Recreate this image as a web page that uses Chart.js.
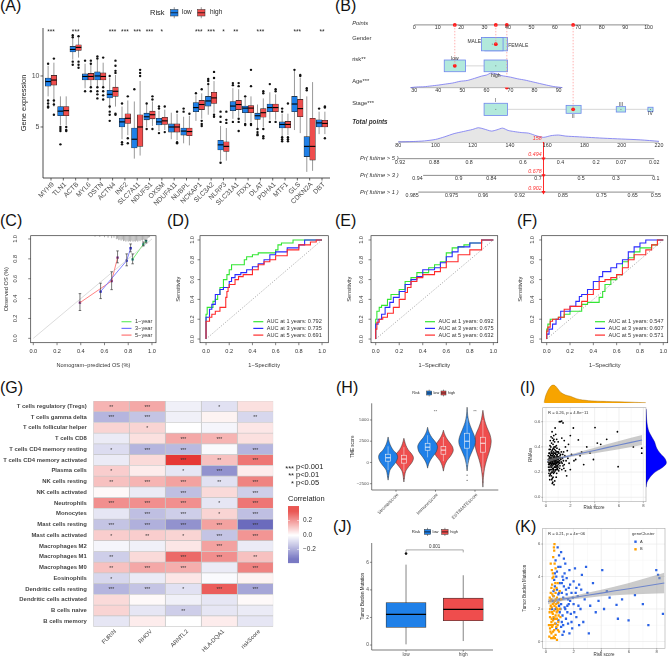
<!DOCTYPE html>
<html>
<head>
<meta charset="utf-8">
<title>Figure</title>
<script src="https://cdn.jsdelivr.net/npm/chart.js@4.4.1/dist/chart.umd.min.js"></script>
<style>
  html, body { margin: 0; padding: 0; background: #fff; }
  #wrap { position: relative; width: 669px; height: 657px; overflow: hidden; background: #fff; }
  #wrap canvas { position: absolute; left: 0; top: 0; }
  .tag { position: absolute; font: 16px "Liberation Sans", Arial, sans-serif; line-height: 16px; color: #111; white-space: nowrap; }
</style>
</head>
<body>
<div id="wrap"></div>
<script>
// ---------------- data: (A) gene expression boxplots ----------------
const genesA = ['MYH9','TLN1','ACTB','MYL6','DSTN','ACTN4','INF2','SLC7A11','NDUFS1','OXSM','NDUFA11','NUBPL',
  'NCKAP1','SLC3A2','NLRP3','SLC31A1','FDX1','DLAT','PDHA1','MTF1','GLS','CDKN2A','DBT'];
const sigA = ['***','','***','','','***','***','***','***','*','','','***','***','*','**','','***','','','***','','**'];
// [lower whisker, q1, median, q3, upper whisker]
const lowBoxA = [[8.0,9.0,9.45,9.8,11.0],[5.2,6.1,6.55,7.0,8.0],[11.6,12.35,12.6,12.9,13.7],[8.8,9.6,9.95,10.2,11.2],
  [9.0,9.6,10.0,10.4,11.6],[6.8,7.85,8.2,8.6,9.8],[3.8,5.0,5.5,5.85,7.0],[1.9,2.95,3.8,4.9,7.5],[5.0,5.7,6.0,6.35,7.2],
  [4.6,5.2,5.5,5.85,6.6],[3.8,4.5,5.0,5.3,6.4],[3.4,4.2,4.6,4.9,6.0],[5.6,6.5,6.9,7.4,8.1],[6.2,7.05,7.55,8.0,9.1],
  [1.7,2.75,3.25,3.7,5.1],[5.8,6.6,7.05,7.5,8.8],[5.5,6.4,6.85,7.05,7.9],[4.9,5.75,6.1,6.35,7.2],[5.7,6.5,6.9,7.25,8.4],
  [4.1,4.9,5.25,5.5,6.3],[4.7,6.5,7.25,8.0,10.5],[0.6,2.1,3.1,4.05,8.0],[4.3,5.0,5.4,5.7,6.5]];
const highBoxA = [[7.0,9.1,9.6,10.05,11.3],[5.2,6.1,6.6,7.0,8.0],[11.8,12.5,12.8,13.05,13.9],[8.8,9.6,9.95,10.25,11.1],
  [9.0,9.6,9.95,10.3,11.3],[7.0,8.0,8.5,8.9,10.1],[4.2,5.35,5.85,6.3,7.6],[2.2,3.1,5.0,6.2,9.5],[5.1,5.8,6.2,6.55,7.5],
  [4.7,5.25,5.6,5.95,6.7],[3.7,4.5,5.0,5.3,6.3],[3.2,4.15,4.55,4.9,6.1],[5.8,6.7,7.2,7.6,8.3],[6.4,7.3,7.85,8.4,9.5],
  [1.7,2.6,3.1,3.55,4.9],[6.0,6.7,7.2,7.6,8.7],[5.5,6.4,6.85,7.1,8.0],[5.0,5.95,6.4,6.8,7.8],[5.7,6.5,6.9,7.25,8.2],
  [4.2,4.9,5.25,5.55,6.3],[4.4,6.0,6.8,7.7,9.8],[0.7,1.75,3.1,5.85,9.4],[4.3,5.0,5.35,5.65,6.5]];
const lowOutA = [[11.2,7.6,7.3,7.0,6.9],[5.0,4.8,4.6,3.3],[14.0,13.8,11.4,11.1],[11.5,8.5],[11.9,11.7,8.9,8.5,8.2,7.8],
  [10.0,7.0,6.5,6.2,5.6],[7.3,3.5,3.3],[8.7],[7.3,4.8],[7.0,6.8,4.4],[],[6.8,6.5],[8.3],[9.7,9.5,9.2],[6.5,6.0,5.5,1.5],
  [9.3,9.1,5.5],[8.0,5.3,5.2],[4.8,4.5,4.3,4.2],[9.2,5.5],[6.8,6.5,4.0,3.8,3.6],[10.6],[8.8,8.6],[6.8]];
const highOutA = [[11.7,7.6,7.2,6.2],[5.0,4.7,4.6],[13.9,11.4,11.1,10.8],[11.5,11.2,8.9,8.5],[11.8,8.9,8.5,8.1,7.7],
  [11.5,11.0,10.5,10.3,6.3,6.2],[8.0,3.9,3.4],[10.6,10.3,10.0],[8.0,7.7,4.8],[7.0,4.5],[6.5,3.5,3.4],[6.3],
  [8.7,5.6,5.3,5.1],[10.4,9.8,6.2,6.0],[6.5,5.7,5.4],[9.3,9.0,5.8,5.5,4.6],[10.6,9.0,5.3,5.2],[8.5,8.3,4.8,4.1,3.9],
  [8.7,8.5,5.5],[7.3,4.0,3.8,3.6],[10.1,10.0],[],[7.0,6.9,3.9]];
const yTicksA = [5, 10];

// ---------------- data: (B) nomogram ----------------
const pointsTicks = [0,10,20,30,40,50,60,70,80,90,100];
const ageTicks = [30,40,50,60,70,80,90];
const totalTicks = [80,100,120,140,160,180,200,220];
const ageDensity = [[28.5,0],[31,0.03],[34,0.04],[37,0.08],[40,0.12],[43,0.17],[46,0.22],[49,0.3],[52,0.34],[55,0.44],
  [58,0.55],[60,0.6],[62,0.7],[64,0.66],[66,0.58],[68,0.54],[70,0.5],[73,0.42],[76,0.36],[79,0.28],[82,0.2],[85,0.12],[88,0.05],[91.5,0]];
const totalDensity = [[80,0],[88,0.02],[94,0.05],[100,0.12],[105,0.25],[110,0.4],[115,0.5],[120,0.6],[123,0.68],[126,0.62],
  [130,0.52],[133,0.58],[136,0.66],[139,0.55],[142,0.5],[146,0.45],[150,0.42],[154,0.3],[158,0.22],[162,0.3],[166,0.33],
  [170,0.28],[176,0.25],[182,0.22],[190,0.18],[200,0.14],[210,0.1],[220,0.03]];
// Pr(futime > t) axes: [label, position on points scale]
const pr5Ticks = [['0.92',-6.1],['0.88',8.5],['0.8',23.4],['0.6',46.4],['0.4',62.4],['0.2',77.6],['0.07',88.2],['0.02',102.4]];
const pr3Ticks = [['0.94',1.4],['0.9',19],['0.84',32.9],['0.7',52.8],['0.5',71.2],['0.3',86.1],['0.1',103.1]];
const pr1Ticks = [['0.985',-0.9],['0.975',15.9],['0.96',29.4],['0.92',45],['0.85',63.4],['0.75',79.9],['0.65',93.2],['0.55',103.1]];
// boxes: [label, from, to, row, half height]
const genderBoxes = [['FEMALE',30.1,39.8,0.92,0.32],['MALE',28.7,37.9,0.92,0.32]];
const riskBoxes = [['low',12.8,21.9,1.96,0.28],['high',29.8,39.8,1.96,0.28]];
const stageBoxes = [['I',29.8,39.8,4.04,0.29],['II',64.8,71.2,4.04,0.19],['III',86.2,90.2,4.04,0.13],['IV',99.7,101.9,4.04,0.1]];
// selected patient: [points, row]
const selPoints = [[34.8,0.92],[17.3,1.96],[39.5,3.0],[67.8,4.04]];
const selTotal = 158;
const selProb = ['0.494','0.678','0.902'];

// ---------------- data: (C) calibration ----------------
const cal1 = [[0.837,0.795],[0.927,0.946],[0.95,0.978]];
const cal3 = [[0.567,0.47],[0.787,0.782],[0.82,0.906]];
const cal5 = [[0.393,0.359],[0.66,0.577],[0.71,0.812]];
const calErr1 = [[0.75,0.85],[0.93,0.97],[0.96,0.99]];
const calErr3 = [[0.40,0.555],[0.73,0.85],[0.87,0.95]];
const calErr5 = [[0.28,0.45],[0.49,0.67],[0.76,0.88]];
const rugC = [[0.52,0.01],[0.56,0.012],[0.6,0.015],[0.63,0.02],[0.66,0.025],[0.68,0.02],[0.7,0.035],[0.71,0.03],[0.72,0.045],
  [0.73,0.04],[0.74,0.05],[0.75,0.04],[0.76,0.055],[0.77,0.05],[0.78,0.06],[0.79,0.05],[0.8,0.06],[0.81,0.055],[0.82,0.06],
  [0.83,0.05],[0.84,0.06],[0.85,0.055],[0.86,0.06],[0.87,0.05],[0.88,0.06],[0.89,0.05],[0.9,0.055],[0.91,0.045],[0.92,0.05],
  [0.93,0.04],[0.94,0.045],[0.95,0.035],[0.96,0.03],[0.97,0.02],[0.98,0.015]];
const unitTicks = [0, 0.2, 0.4, 0.6, 0.8, 1.0];

// ---------------- data: (D) (E) (F) ROC ----------------
const rocD1 = [[0,0],[0,0.15],[0.01,0.25],[0.03,0.32],[0.06,0.32],[0.08,0.38],[0.1,0.4],[0.12,0.45],[0.15,0.52],[0.18,0.6],[0.2,0.65],
  [0.22,0.7],[0.25,0.75],[0.33,0.75],[0.35,0.8],[0.4,0.83],[0.45,0.85],[0.55,0.87],[0.6,0.87],[0.62,0.9],[0.65,0.95],[0.75,0.97],[0.8,1],[1,1]];
const rocD3 = [[0,0],[0,0.12],[0.03,0.22],[0.05,0.3],[0.08,0.35],[0.12,0.45],[0.15,0.5],[0.2,0.52],[0.22,0.58],[0.25,0.62],[0.3,0.65],
  [0.35,0.67],[0.4,0.7],[0.45,0.73],[0.5,0.76],[0.55,0.8],[0.6,0.85],[0.7,0.88],[0.8,0.92],[0.85,0.95],[0.9,1],[1,1]];
const rocD5 = [[0,0],[0,0.1],[0.03,0.18],[0.05,0.22],[0.08,0.25],[0.12,0.28],[0.17,0.32],[0.18,0.42],[0.19,0.48],[0.2,0.52],[0.25,0.55],
  [0.28,0.6],[0.32,0.63],[0.4,0.65],[0.45,0.7],[0.5,0.75],[0.55,0.78],[0.6,0.8],[0.7,0.84],[0.8,0.9],[0.9,0.95],[0.95,0.98],[1,1]];
const rocE1 = [[0,0],[0,0.1],[0.01,0.2],[0.03,0.28],[0.05,0.32],[0.1,0.34],[0.13,0.4],[0.2,0.45],[0.25,0.5],[0.3,0.58],[0.35,0.62],
  [0.45,0.67],[0.5,0.72],[0.55,0.75],[0.6,0.78],[0.65,0.87],[0.7,0.92],[0.75,0.93],[0.8,0.95],[0.9,0.97],[1,1]];
const rocE3 = [[0,0],[0.02,0.15],[0.05,0.2],[0.08,0.25],[0.12,0.32],[0.15,0.37],[0.2,0.42],[0.25,0.48],[0.3,0.55],[0.35,0.6],[0.4,0.63],
  [0.5,0.7],[0.55,0.72],[0.6,0.77],[0.65,0.83],[0.7,0.88],[0.8,0.93],[0.9,0.97],[0.95,1],[1,1]];
const rocE5 = [[0,0],[0.01,0.1],[0.03,0.17],[0.06,0.2],[0.1,0.22],[0.15,0.26],[0.2,0.32],[0.25,0.4],[0.27,0.47],[0.3,0.52],[0.35,0.58],
  [0.4,0.62],[0.5,0.65],[0.55,0.68],[0.6,0.72],[0.7,0.78],[0.8,0.85],[0.9,0.9],[1,1]];
const rocF1 = [[0,0],[0.01,0.1],[0.03,0.15],[0.05,0.2],[0.1,0.2],[0.15,0.22],[0.2,0.25],[0.3,0.28],[0.35,0.35],[0.45,0.37],[0.48,0.42],
  [0.5,0.48],[0.55,0.55],[0.6,0.6],[0.65,0.65],[0.7,0.78],[0.75,0.82],[0.8,0.88],[0.9,0.92],[0.95,0.95],[1,1]];
const rocF3 = [[0,0],[0.02,0.05],[0.05,0.1],[0.08,0.15],[0.12,0.2],[0.2,0.28],[0.25,0.33],[0.28,0.38],[0.3,0.43],[0.35,0.45],[0.4,0.5],
  [0.45,0.58],[0.48,0.63],[0.55,0.68],[0.6,0.72],[0.65,0.76],[0.7,0.8],[0.75,0.88],[0.8,0.93],[0.85,0.97],[0.9,1],[1,1]];
const rocF5 = [[0,0],[0.01,0.08],[0.03,0.12],[0.05,0.18],[0.1,0.2],[0.15,0.22],[0.2,0.3],[0.3,0.33],[0.35,0.38],[0.4,0.45],[0.45,0.5],
  [0.5,0.58],[0.55,0.6],[0.6,0.62],[0.65,0.65],[0.7,0.72],[0.75,0.8],[0.85,0.85],[0.9,0.9],[0.95,0.95],[1,1]];
const aucD = ['0.792','0.735','0.691'];
const aucE = ['0.692','0.675','0.632'];
const aucF = ['0.547','0.607','0.571'];

// ---------------- data: (G) immune correlation heatmap ----------------
const immuneCells = ['T cells regulatory (Tregs)','T cells gamma delta','T cells follicular helper','T cells CD8',
  'T cells CD4 memory resting','T cells CD4 memory activated','Plasma cells','NK cells resting','NK cells activated',
  'Neutrophils','Monocytes','Mast cells resting','Mast cells activated','Macrophages M2','Macrophages M1','Macrophages M0',
  'Eosinophils','Dendritic cells resting','Dendritic cells activated','B cells naive','B cells memory'];
const corGenes = ['FURIN','RHOV','ARNTL2','HLA-DQA1','riskScore'];
const corValues = [[0.12,0.14,-0.03,-0.06,0.05],[-0.15,-0.12,-0.03,0.02,-0.08],[0.07,0.07,0.0,-0.02,0.04],[-0.04,0.05,0.14,0.12,0.05],
  [-0.07,-0.15,-0.14,-0.01,-0.15],[-0.04,0.06,0.32,0.1,0.22],[0.08,0.03,-0.05,-0.22,0.03],[0.1,0.12,0.15,-0.06,0.2],
  [0.01,-0.04,-0.13,0.06,-0.1],[0.18,0.18,0.18,-0.05,0.22],[-0.05,-0.13,-0.1,0.07,-0.13],[-0.12,-0.16,-0.22,0.15,-0.3],
  [0.08,0.08,0.07,-0.12,0.17],[-0.02,-0.03,0.04,0.15,-0.04],[-0.1,0.06,0.24,0.18,0.1],[0.1,0.14,0.13,-0.04,0.2],
  [-0.08,-0.04,0.04,-0.01,0.02],[-0.15,-0.12,-0.06,0.26,-0.18],[0.06,0.01,-0.03,-0.05,0.01],[0.07,-0.05,-0.1,-0.05,-0.04],
  [-0.05,0.03,0.0,0.03,-0.05]];
const corStars = [['**','***','','*',''],['***','***','','','**'],['','*','','',''],['','','***','***',''],['*','***','***','','***'],
  ['','','***','**','***'],['*','','*','***',''],['**','***','***','**','***'],['','','***','','***'],['***','***','***','*','***'],
  ['','***','***','*','***'],['***','***','***','***','***'],['*','**','*','***','***'],['','','','***',''],['**','','***','***','**'],
  ['**','***','***','','***'],['*','','','',''],['***','***','*','***','***'],['','','','',''],['','','**','',''],['','','','','']];
const corLegendTicks = [0.2, 0.0, -0.2];

// ---------------- data: (H) TME violins ----------------
const tmeGroups = ['StromalScore','ImmuneScore','ESTIMATEScore'];
// [score, relative half width]
const violinLow = [
  [[-2080,0],[-1500,0.08],[-900,0.2],[-500,0.45],[0,0.8],[400,0.97],[740,1],[1100,0.85],[1440,0.55],[1900,0.3],[2400,0.12],[3000,0]],
  [[-670,0],[-200,0.1],[300,0.3],[800,0.6],[1300,0.9],[1900,1],[2400,0.8],[2900,0.45],[3400,0.2],[3800,0.07],[4140,0]],
  [[-1000,0],[-200,0.1],[600,0.3],[1400,0.65],[2100,0.95],[2600,1],[3200,0.85],[3900,0.55],[4700,0.25],[5500,0.08],[6500,0]]];
const violinHigh = [
  [[-2300,0],[-1600,0.08],[-1000,0.2],[-500,0.5],[0,0.85],[400,1],[700,0.98],[1100,0.75],[1500,0.45],[2000,0.22],[2500,0.08],[2850,0]],
  [[-1020,0],[-400,0.12],[200,0.35],[700,0.7],[1200,0.95],[1500,1],[1900,0.9],[2400,0.6],[2900,0.3],[3400,0.1],[3800,0]],
  [[-2900,0],[-1800,0.06],[-700,0.2],[300,0.45],[1200,0.75],[2000,0.95],[2600,1],[3300,0.85],[4100,0.5],[5000,0.2],[6140,0]]];
const violinWidth = [0.24, 0.25, 0.21];
const tmeBoxLow = [[-900,150,550,970,1900],[600,1440,1800,2260,3200],[-300,1680,2500,3440,5200]];
const tmeBoxHigh = [[-1100,-80,400,850,1800],[150,970,1450,1900,3000],[-1200,1210,2260,2970,5000]];
const tmeOutLow = [[-1700],[-400],[-1500,-2100]];
const tmeOutHigh = [[-1900],[-600],[-2300]];
const tmeSig = ['', '**', '**'];
const tmeTicks = [-2500, 0, 2500, 5000];

// ---------------- data: (I) RNAss vs risk score ----------------
const rnassPoints = [[0.2,0.3],[0.25,0.22],[0.3,0.35],[0.3,0.27],[0.35,0.18],[0.35,0.31],[0.4,0.25],[0.4,0.4],[0.42,0.29],[0.45,0.2],
  [0.45,0.33],[0.5,0.27],[0.5,0.37],[0.52,0.15],[0.55,0.23],[0.55,0.3],[0.58,0.42],[0.6,0.26],[0.6,0.34],[0.62,0.19],[0.65,0.29],
  [0.65,0.46],[0.68,0.24],[0.7,0.32],[0.7,0.38],[0.72,0.13],[0.75,0.27],[0.75,0.21],[0.78,0.35],[0.8,0.3],[0.8,0.5],[0.82,0.25],
  [0.85,0.41],[0.88,0.19],[0.9,0.33],[0.9,0.28],[0.92,0.23],[0.95,0.36],[0.98,0.3],[1.0,0.26],[1.0,0.44],[1.05,0.32],[1.05,0.21],
  [1.1,0.29],[1.1,0.38],[1.15,0.25],[1.2,0.34],[1.2,0.6],[1.25,0.28],[1.3,0.22],[1.3,0.47],[1.35,0.31],[1.4,0.59],[1.45,0.36],
  [1.5,0.26],[1.55,0.33],[1.6,0.4],[1.65,0.29],[1.7,0.17],[1.75,0.37],[1.8,0.31],[1.9,0.27],[2.0,0.22],[2.0,0.49],[2.1,0.34],
  [2.25,0.55],[2.3,0.29],[2.44,0.3],[2.66,0.455],[2.8,0.33],[2.93,0.36],[3.1,0.26],[3.35,0.4],[3.62,0.35],[3.9,0.3],[4.03,0.553],
  [4.22,0.43],[4.5,0.42],[4.99,0.46],[5.87,0.52],[5.93,0.243],[7.18,0.4],[7.87,0.39],[7.87,0.35],[1.1,0.6],[1.29,0.605],
  [0.22,0.26],[0.28,0.32],[0.32,0.24],[0.38,0.28],[0.43,0.36],[0.47,0.26],[0.48,0.31],[0.53,0.28],[0.57,0.35],[0.63,0.27],
  [0.67,0.33],[0.73,0.29],[0.77,0.24],[0.83,0.32],[0.87,0.27],[0.93,0.3],[0.97,0.22],[0.33,0.41],[0.44,0.17],[0.56,0.12],
  [0.66,0.1],[0.53,0.47],[0.71,0.44],[0.27,0.38],[0.37,0.34],[0.61,0.39],[0.79,0.37],[0.86,0.22],[1.02,0.36],[1.12,0.23],
  [0.24,0.19],[0.41,0.22],[0.59,0.21],[0.69,0.29],[0.94,0.25],[1.08,0.27],[1.18,0.31],[1.4,0.25],[1.6,0.21],[0.5,0.52],
  [0.75,0.55],[0.64,0.49],[0.46,0.43],[0.31,0.14],[0.84,0.16],[1.5,0.45],[1.85,0.42],
  [0.18,0.28],[0.19,0.33],[0.21,0.24],[0.23,0.3],[0.26,0.27],[0.27,0.21],[0.29,0.29],[0.31,0.26],[0.33,0.31],[0.34,0.22],
  [0.36,0.27],[0.37,0.3],[0.39,0.33],[0.4,0.19],[0.41,0.27],[0.43,0.31],[0.44,0.24],[0.46,0.29],[0.47,0.35],[0.49,0.22],
  [0.5,0.3],[0.51,0.25],[0.52,0.33],[0.54,0.27],[0.55,0.38],[0.56,0.2],[0.58,0.29],[0.59,0.32],[0.6,0.23],[0.61,0.3],
  [0.62,0.36],[0.63,0.22],[0.64,0.31],[0.66,0.26],[0.67,0.4],[0.68,0.3],[0.69,0.2],[0.7,0.27],[0.71,0.35],[0.72,0.24],
  [0.74,0.31],[0.76,0.28],[0.77,0.4],[0.78,0.22],[0.8,0.26],[0.81,0.34],[0.82,0.29],[0.84,0.24],[0.85,0.3],[0.86,0.36],
  [0.88,0.27],[0.89,0.31],[0.9,0.39],[0.91,0.25],[0.93,0.34],[0.95,0.28],[0.96,0.32],[0.99,0.24],[1.0,0.3],[1.03,0.28],
  [1.06,0.35],[1.09,0.31],[1.13,0.27],[1.16,0.33],[1.22,0.3],[1.26,0.36],[1.33,0.27],[1.38,0.34],[1.43,0.29],[1.47,0.23],
  [0.35,0.45],[0.42,0.48],[0.6,0.45],[0.88,0.46],[0.52,0.11],[0.47,0.14],[0.58,0.16],[0.36,0.38],[0.29,0.17],[0.25,0.35]];
const fitXI = [0.15,1,2,3,4,5,6,7,7.9];
const fitI = [0.291,0.309,0.330,0.351,0.372,0.394,0.415,0.436,0.455];
const fitLoI = [0.279,0.301,0.320,0.335,0.350,0.366,0.381,0.400,0.415];
const fitHiI = [0.303,0.317,0.340,0.367,0.394,0.421,0.446,0.472,0.495];
const riskDensity = [[-0.15,0.05],[0,0.45],[0.3,0.85],[0.6,1],[0.9,0.85],[1.2,0.6],[1.6,0.45],[2,0.38],[2.5,0.25],[3,0.18],[4,0.12],
  [5,0.1],[6,0.08],[7,0.06],[8.2,0.03]];
const rnassDensity = [[0.08,0],[0.12,0.05],[0.16,0.2],[0.2,0.45],[0.23,0.75],[0.26,0.97],[0.28,1],[0.31,0.92],[0.34,0.75],[0.37,0.6],
  [0.4,0.5],[0.44,0.42],[0.48,0.28],[0.52,0.15],[0.56,0.08],[0.62,0.03],[0.7,0]];
const riskTicks = [0, 2, 4, 6, 8];
const rnassTicks = [0, 0.2, 0.4, 0.6];

// ---------------- data: (J) TMB boxplot ----------------
const tmbGroups = ['low', 'high'];
const tmbBox = [[0.05,1.28,2.22,3.08,5.83],[0.29,1.76,2.58,3.4,5.06]];
const tmbOut = [[6.63], []];
const tmbTicks = [0, 2, 4, 6];
const tmbP = '0.001';

// ---------------- data: (K) TMB vs risk score ----------------
const tmbClusterB = [[0.25,0.3],[0.3,0.8],[0.3,1.5],[0.35,2.2],[0.35,3.0],[0.4,0.5],[0.4,1.2],[0.4,2.6],[0.45,1.8],[0.45,3.5],[0.5,0.2],
  [0.5,1.0],[0.5,2.3],[0.5,4.2],[0.55,1.5],[0.55,2.8],[0.6,0.7],[0.6,1.9],[0.6,3.2],[0.6,5.6],[0.65,1.1],[0.65,2.5],[0.7,0.4],
  [0.7,1.6],[0.7,3.0],[0.7,4.5],[0.75,2.1],[0.75,0.9],[0.8,1.4],[0.8,2.7],[0.8,0.1],[0.85,1.9],[0.85,3.6],[0.9,2.4],[0.9,1.2],
  [0.95,0.6],[1.0,2.0],[1.0,3.1],[1.05,1.5],[1.1,2.6],[0.35,4.8],[0.55,4.0],[0.45,0.9],[0.62,6.0],[0.3,2.0],[0.4,3.3],[0.5,1.7],
  [0.65,0.2],[0.75,2.3],[0.85,1.0],[0.28,2.7],[0.38,0.2],[0.48,3.9],[0.58,2.4],[0.68,3.6],[0.78,1.8],[0.42,1.4],[0.52,0.6],
  [0.22,1.0],[0.27,1.8],[0.32,2.5],[0.37,1.0],[0.42,2.1],[0.47,2.9],[0.52,1.3],[0.57,0.3],[0.62,2.2],[0.67,1.4],[0.72,2.6],
  [0.77,3.3],[0.82,2.0],[0.87,0.7],[0.92,1.6],[0.33,0.6],[0.43,4.4],[0.53,5.2],[0.63,4.8],[0.58,5.8]];
const tmbClusterA = [[0.5,2.5],[0.6,3.8],[0.7,2.0],[0.7,5.0],[0.8,3.2],[0.8,4.3],[0.9,1.3],[0.9,2.9],[0.95,5.3],[1.0,3.6],[1.0,1.8],
  [1.05,4.6],[1.1,2.3],[1.1,0.9],[1.15,3.0],[1.2,1.6],[1.2,4.0],[1.25,2.7],[1.3,3.4],[1.3,0.6],[1.35,2.1],[1.4,4.8],[1.45,1.4],
  [1.5,2.9],[1.5,3.9],[1.55,2.2],[1.6,1.1],[1.65,3.3],[1.7,4.4],[1.75,2.5],[1.8,1.7],[1.85,3.0],[1.9,0.8],[2.0,2.3],[2.0,3.7],
  [2.1,4.5],[2.2,1.5],[2.3,2.8],[2.4,3.5],[2.5,2.0],[2.6,4.1],[2.7,1.2],[2.8,2.6],[3.0,3.0],[3.1,0.5],[3.2,2.2],[3.4,3.6],
  [3.6,1.8],[3.8,2.5],[4.07,4.4],[4.2,2.0],[4.4,3.1],[4.6,2.7],[5.1,2.25],[5.2,1.4],[5.5,2.6],[5.97,1.3],[6.43,2.86],[7.0,2.3],
  [7.4,1.0],[7.97,4.4],[8.1,4.1],[8.2,3.9],[8.45,1.7],[0.85,5.8],[1.3,5.1],[2.2,3.3],[1.0,2.6],[1.4,2.0],[0.6,1.4],[0.55,3.1],
  [0.65,4.2],[0.75,0.8],[0.95,2.2],[1.15,1.2],[1.25,3.8],[1.6,2.6],[1.7,0.5],[2.4,1.0],[2.9,4.6],
  [0.45,2.0],[0.55,2.8],[0.65,3.4],[0.75,4.0],[0.85,2.4],[0.95,3.0],[1.05,2.0],[1.15,3.6],[1.25,1.0],[1.35,4.2],[1.45,3.2],
  [1.55,1.8],[1.65,2.3],[1.75,3.5],[1.85,1.2],[1.95,2.7],[2.05,1.8],[2.15,3.0],[2.35,2.2],[2.55,3.2],[0.9,4.6],[1.1,5.5],
  [1.2,0.4],[0.7,1.1]];
const fitXK = [0.15,1,2,3,4,5,6,7,8,8.55];
const fitK = [2.46,2.58,2.71,2.85,2.98,3.12,3.25,3.39,3.52,3.6];
const fitLoK = [2.30,2.46,2.60,2.70,2.78,2.85,2.90,2.93,2.95,2.97];
const fitHiK = [2.62,2.70,2.82,3.00,3.18,3.39,3.60,3.85,4.09,4.23];
const tmbKTicks = [0, 2, 4, 6];

// ---------------- shared helpers ----------------
const W = 669, H = 657;
const FONT = '"Liberation Sans", Arial, sans-serif';
const BLUE = '#1f80e8', RED = '#ef4d4d';
const GREEN_R = '#33e633', BLUE_R = '#2a2aff', RED_R = '#ff2a2a';
Chart.defaults.font.family = FONT;

const wrap = document.getElementById('wrap');
function newCanvas() {
  const c = document.createElement('canvas');
  c.width = W; c.height = H;
  c.style.width = W + 'px'; c.style.height = H + 'px';
  wrap.appendChild(c);
  return c;
}
function pad(a) { return { left: a[0], top: a[1], right: W - a[2], bottom: H - a[3] }; }
function baseOptions(area, xs, ys) {
  return {
    responsive: false, animation: false, events: [],
    layout: { padding: pad(area) },
    scales: {
      x: Object.assign({ type: 'linear', display: false, offset: false }, xs),
      y: Object.assign({ type: 'linear', display: false }, ys)
    },
    plugins: { legend: { display: false }, tooltip: { enabled: false } }
  };
}
function txt(ctx, s, x, y, o = {}) {
  ctx.save();
  ctx.font = (o.style || 'normal') + ' ' + (o.weight || 'normal') + ' ' + (o.size || 6) + 'px ' + FONT;
  ctx.fillStyle = o.color || '#222';
  ctx.textAlign = o.align || 'center';
  ctx.textBaseline = o.base || 'middle';
  ctx.translate(x, y);
  if (o.rot) ctx.rotate(o.rot * Math.PI / 180);
  ctx.fillText(s, 0, 0);
  ctx.restore();
}
function seg(ctx, x0, y0, x1, y1, color, width, dash) {
  ctx.save();
  ctx.strokeStyle = color || '#222';
  ctx.lineWidth = width || 0.8;
  if (dash) ctx.setLineDash(dash);
  ctx.beginPath(); ctx.moveTo(x0, y0); ctx.lineTo(x1, y1); ctx.stroke();
  ctx.restore();
}
function pts(arr) { return arr.map(([x, y]) => ({ x, y })); }
function keyBox(ctx, x, y, w, h, fill) {
  seg(ctx, x + w / 2, y - h * 0.35, x + w / 2, y + h * 1.35, '#333', 0.5);
  ctx.save(); ctx.fillStyle = fill; ctx.strokeStyle = '#333'; ctx.lineWidth = 0.5;
  ctx.fillRect(x, y, w, h); ctx.strokeRect(x, y, w, h); ctx.restore();
  seg(ctx, x, y + h / 2, x + w, y + h / 2, '#111', 0.8);
}

// panel tags
[['(A)',0,0],['(B)',335,0],['(C)',0,215],['(D)',167,215],['(E)',335,215],['(F)',517,215],
 ['(G)',0,382],['(H)',336,382],['(I)',520,382],['(J)',333,521],['(K)',515,521]].forEach(([t, x, y]) => {
  const d = document.createElement('div'); d.className = 'tag'; d.textContent = t;
  d.style.left = x + 'px'; d.style.top = (y - 2) + 'px'; wrap.appendChild(d);
});

// ---------------- (A) ----------------
const dodgeA = 0.235;
const boxAPlugin = {
  id: 'boxA',
  beforeDatasetsDraw(chart) {
    const { ctx, scales: { x, y } } = chart;
    [[lowBoxA, -dodgeA], [highBoxA, dodgeA]].forEach(([st, off]) => st.forEach((s, i) => {
      const px = x.getPixelForValue(i + off);
      seg(ctx, px, y.getPixelForValue(s[0]), px, y.getPixelForValue(s[4]), '#555', 0.6);
    }));
  },
  afterDatasetsDraw(chart) {
    const { ctx, chartArea: a, scales: { x, y } } = chart;
    [[lowBoxA, -dodgeA], [highBoxA, dodgeA]].forEach(([st, off]) => st.forEach((s, i) => {
      const px = x.getPixelForValue(i + off), py = y.getPixelForValue(s[2]);
      seg(ctx, px - 2.8, py, px + 2.8, py, '#000', 1.1);
    }));
    seg(ctx, a.left, a.top, a.left, a.bottom, '#222', 0.8);
    seg(ctx, a.left, a.bottom, a.right, a.bottom, '#222', 0.8);
    yTicksA.forEach(v => {
      const py = y.getPixelForValue(v);
      seg(ctx, a.left - 2.5, py, a.left, py, '#222', 0.7);
      txt(ctx, String(v), a.left - 3.5, py, { align: 'right', size: 7, color: '#4d4d4d' });
    });
    genesA.forEach((g, i) => {
      const px = x.getPixelForValue(i);
      seg(ctx, px, a.bottom, px, a.bottom + 2.5, '#222', 0.7);
      txt(ctx, g, px + 2, a.bottom + 5.5, { align: 'right', rot: -45, size: 6.8, color: '#4d4d4d' });
      if (sigA[i]) txt(ctx, sigA[i], px, y.getPixelForValue(14.3), { size: 6.5, color: '#222' });
    });
    txt(ctx, 'Gene expression', 24, (a.top + a.bottom) / 2, { rot: -90, size: 7.5 });
    txt(ctx, 'Risk', 150, 12.7, { align: 'left', size: 7.5 });
    keyBox(ctx, 170.5, 9.5, 7.5, 6.5, BLUE);
    txt(ctx, 'low', 182, 12.7, { align: 'left', size: 6.5 });
    keyBox(ctx, 197.5, 9.5, 7.5, 6.5, RED);
    txt(ctx, 'high', 210, 12.7, { align: 'left', size: 6.5 });
  }
};
function outPts(outs, off) {
  const r = [];
  outs.forEach((vals, i) => vals.forEach(v => r.push({ x: i + off, y: v })));
  return r;
}
new Chart(newCanvas(), {
  type: 'bar',
  data: { datasets: [
    { data: lowBoxA.map((s, i) => ({ x: i - dodgeA, y: [s[1], s[3]] })), backgroundColor: BLUE, borderColor: '#222',
      borderWidth: 0.6, borderSkipped: false, barThickness: 5.6, grouped: false },
    { data: highBoxA.map((s, i) => ({ x: i + dodgeA, y: [s[1], s[3]] })), backgroundColor: RED, borderColor: '#222',
      borderWidth: 0.6, borderSkipped: false, barThickness: 5.6, grouped: false },
    { type: 'scatter', data: outPts(lowOutA, -dodgeA), pointRadius: 1.2, backgroundColor: '#111', borderWidth: 0 },
    { type: 'scatter', data: outPts(highOutA, dodgeA), pointRadius: 1.2, backgroundColor: '#111', borderWidth: 0 }
  ] },
  options: baseOptions([43, 28, 330, 178], { min: -0.65, max: 22.65 }, { min: 0, max: 14.7 }),
  plugins: [boxAPlugin]
});

// ---------------- (B) nomogram ----------------
const rowY = { points: 0, gender: 0.92, risk: 1.96, age: 3.0, stage: 4.04, total: 5.6, pr5: 6.4, pr3: 7.2, pr1: 8.0 };
const ageU = a => (a - 30) * 61.6 / 60;          // age axis -> points scale
const totalU = v => -6.8 + (v - 80) * 111.2 / 140; // total points axis -> points scale
const nomoLabels = [['Points', -0.05, 'italic', -26.5], ['Gender', 0.63, 'normal', -26.5], ['risk**', 1.67, 'normal', -26.5],
  ['Age***', 2.7, 'normal', -26.5], ['Stage***', 3.76, 'normal', -26.5], ['Total points', 4.65, 'italic', -26.5],
  ['Pr( futime > 5 )', 6.4, 'italic', -23.1], ['Pr( futime > 3 )', 7.2, 'italic', -23.1], ['Pr( futime > 1 )', 8.0, 'italic', -23.1]];
const nomoPlugin = {
  id: 'nomo',
  beforeDatasetsDraw(chart) {
    const { ctx, scales: { x, y } } = chart;
    const X = v => x.getPixelForValue(v), Y = v => y.getPixelForValue(v);
    const ax = '#8c8c8c';
    seg(ctx, X(0), Y(rowY.points), X(100), Y(rowY.points), ax, 1);
    seg(ctx, X(ageU(28.5)), Y(rowY.age), X(ageU(91.5)), Y(rowY.age), ax, 1);
    seg(ctx, X(totalU(80)), Y(rowY.total), X(totalU(220)), Y(rowY.total), ax, 1);
    seg(ctx, X(-6.8), Y(rowY.pr5), X(102.4), Y(rowY.pr5), ax, 1);
    seg(ctx, X(3.8), Y(rowY.pr3), X(102.4), Y(rowY.pr3), ax, 1);
    seg(ctx, X(1.7), Y(rowY.pr1), X(102.4), Y(rowY.pr1), ax, 1);
    // connecting lines of categorical rows
    seg(ctx, X(21.9), Y(rowY.risk), X(29.8), Y(rowY.risk), '#bbb', 0.6);
    seg(ctx, X(39.8), Y(rowY.stage), X(99.7), Y(rowY.stage), '#bbb', 0.6);
    ctx.save(); ctx.fillStyle = '#b2e9dc'; ctx.strokeStyle = '#6f86ee'; ctx.lineWidth = 0.8;
    genderBoxes.concat(riskBoxes, stageBoxes).forEach(([lab, u0, u1, r, hh]) => {
      const x0 = X(u0), x1 = X(u1), y0 = Y(r - hh), y1 = Y(r + hh);
      ctx.fillRect(x0, y0, x1 - x0, y1 - y0); ctx.strokeRect(x0, y0, x1 - x0, y1 - y0);
      ctx.fillStyle = '#555'; ctx.fillRect((x0 + x1) / 2 - 0.4, (y0 + y1) / 2 - 0.4, 0.8, 0.8); ctx.fillStyle = '#b2e9dc';
    });
    ctx.restore();
  },
  afterDatasetsDraw(chart) {
    const { ctx, scales: { x, y } } = chart;
    const X = v => x.getPixelForValue(v), Y = v => y.getPixelForValue(v);
    const tc = '#333';
    pointsTicks.forEach(v => txt(ctx, String(v), X(v), Y(rowY.points + 0.12), { size: 5.3, color: tc }));
    ageTicks.forEach(v => txt(ctx, String(v), X(ageU(v)), Y(rowY.age + 0.15), { size: 5.3, color: tc }));
    totalTicks.forEach(v => txt(ctx, String(v), X(totalU(v)), Y(rowY.total + 0.15), { size: 5.3, color: tc }));
    [[pr5Ticks, rowY.pr5], [pr3Ticks, rowY.pr3], [pr1Ticks, rowY.pr1]].forEach(([tk, r]) =>
      tk.forEach(([lab, u]) => txt(ctx, lab, X(u), Y(r + 0.17), { size: 5.3, color: tc })));
    nomoLabels.forEach(([lab, r, st, u]) => txt(ctx, lab, X(u), Y(r), {
      align: 'left', size: lab === 'Total points' ? 6.3 : 5.8, style: st, weight: lab === 'Total points' ? 'bold' : 'normal', color: '#333' }));
    // category names
    txt(ctx, 'MALE', X(28.5), Y(0.82), { align: 'right', size: 5, color: tc });
    txt(ctx, 'FEMALE', X(40.1), Y(0.98), { align: 'left', size: 5, color: tc });
    txt(ctx, 'low', X(17.3), Y(1.6), { size: 5, color: tc });
    txt(ctx, 'high', X(34.8), Y(2.43), { size: 5, color: tc });
    txt(ctx, 'I', X(34.8), Y(3.62), { size: 5, color: tc });
    txt(ctx, 'II', X(67.8), Y(4.38), { size: 5, color: tc });
    txt(ctx, 'III', X(88.2), Y(3.82), { size: 5, color: tc });
    txt(ctx, 'IV', X(100.8), Y(4.24), { size: 5, color: tc });
    // selected values
    const tu = totalU(selTotal);
    txt(ctx, String(selTotal), X(tu - 0.8), Y(rowY.total - 0.17), { align: 'right', size: 5.3, style: 'italic', color: '#ff3030' });
    [rowY.pr5, rowY.pr3, rowY.pr1].forEach((r, i) =>
      txt(ctx, selProb[i], X(tu - 0.8), Y(r - 0.18), { align: 'right', size: 5.3, style: 'italic', color: '#ff3030' }));
  }
};
const tuSel = totalU(selTotal);
new Chart(newCanvas(), {
  type: 'scatter',
  data: { datasets: [
    { type: 'line', data: ageDensity.map(([a, h]) => ({ x: ageU(a), y: rowY.age - h })), fill: { value: rowY.age },
      backgroundColor: '#e6e6e6', borderColor: '#7474f2', borderWidth: 0.8, pointRadius: 0, tension: 0.25 },
    { type: 'line', data: totalDensity.map(([v, h]) => ({ x: totalU(v), y: rowY.total - h })), fill: { value: rowY.total },
      backgroundColor: '#e6e6e6', borderColor: '#7474f2', borderWidth: 0.8, pointRadius: 0, tension: 0.25 },
    ...selPoints.map(([u, r]) => ({ type: 'line', data: [{ x: u, y: rowY.points }, { x: u, y: r }], borderColor: '#ff8080',
      borderWidth: 0.6, borderDash: [1.5, 1.5], pointRadius: 0 })),
    { type: 'line', data: [{ x: tuSel, y: rowY.total }, { x: tuSel, y: rowY.pr5 }, { x: tuSel, y: rowY.pr3 }, { x: tuSel, y: rowY.pr1 }],
      borderColor: '#ff2a2a', borderWidth: 0.9, pointStyle: 'triangle', rotation: 180, pointRadius: [1.6, 2.4, 2.4, 2.4],
      pointBackgroundColor: '#ff1a1a', pointBorderWidth: 0 },
    { data: selPoints.map(([u, r]) => ({ x: u, y: r })).concat(selPoints.map(([u]) => ({ x: u, y: rowY.points }))),
      pointRadius: 1.9, backgroundColor: '#ff1a1a', borderWidth: 0 }
  ] },
  options: baseOptions([395.5, 3, 665.75, 213], { min: -8, max: 107 }, { min: -1, max: 9, reverse: true }),
  plugins: [nomoPlugin]
});

// ---------------- (C) .. (F) base-R style panels ----------------
function rBaseAxes(chart, p) {
  const { ctx, chartArea: a, scales: { x, y } } = chart;
  ctx.save(); ctx.strokeStyle = '#333'; ctx.lineWidth = 0.7;
  ctx.strokeRect(a.left, a.top, a.right - a.left, a.bottom - a.top); ctx.restore();
  unitTicks.forEach(v => {
    const px = x.getPixelForValue(v), py = y.getPixelForValue(v);
    seg(ctx, px, a.bottom, px, a.bottom + 2.5, '#333', 0.6);
    txt(ctx, v.toFixed(1), px, 351.7, { size: 5.6, color: '#333' });
    seg(ctx, a.left - 2.5, py, a.left, py, '#333', 0.6);
    txt(ctx, v.toFixed(1), p.yLab, py, { size: 5.6, rot: -90, color: '#333' });
  });
  txt(ctx, p.xTitle, (a.left + a.right) / 2 + (p.xShift || 0), 365, { size: 5.6, color: '#333' });
  txt(ctx, p.yTitle, p.yTitleX, (a.top + a.bottom) / 2, { size: 5.6, rot: -90, color: '#333' });
  p.legend.forEach(([col, lab], i) => {
    const ly = 321.7 + i * 6.7;
    seg(ctx, p.legX, ly, p.legX + 10, ly, col, 1.2);
    txt(ctx, lab, p.legX + 13.5, ly, { align: 'left', size: 5.6, color: '#333' });
  });
}
// (C)
const calColors = ['#66ee66', '#7474ff', '#ff7474'];
const calPointColors = ['#1f8f8f', '#2a2ad0', '#7d2a8a'];
const calPlugin = {
  id: 'cal',
  beforeDatasetsDraw(chart) {
    const { ctx, chartArea: a, scales: { x, y } } = chart;
    rugC.forEach(([v, h]) => {
      const px = x.getPixelForValue(v);
      seg(ctx, px, a.top, px, a.top + (y.getPixelForValue(1) - y.getPixelForValue(1 + h)), '#9a9a9a', 0.8);
    });
  },
  afterDatasetsDraw(chart) {
    const { ctx, scales: { x, y } } = chart;
    [[cal1, calErr1], [cal3, calErr3], [cal5, calErr5]].forEach(([c, e]) => c.forEach(([v], i) => {
      const px = x.getPixelForValue(v), y0 = y.getPixelForValue(e[i][0]), y1 = y.getPixelForValue(e[i][1]);
      seg(ctx, px, y0, px, y1, '#222', 0.6);
      seg(ctx, px - 1.3, y0, px + 1.3, y0, '#222', 0.6);
      seg(ctx, px - 1.3, y1, px + 1.3, y1, '#222', 0.6);
    }));
    rBaseAxes(chart, { yLab: 15, yTitleX: 6, xTitle: 'Nomogram−predicted OS (%)', yTitle: 'Observed OS (%)', legX: 121.5,
      legend: [[calColors[0], '1−year'], [calColors[1], '3−year'], [calColors[2], '5−year']] });
  }
};
new Chart(newCanvas(), {
  type: 'scatter',
  data: { datasets: [
    { type: 'line', data: [{ x: 0, y: 0 }, { x: 1, y: 1 }], borderColor: '#c4c4c4', borderWidth: 0.6, pointRadius: 0 },
    ...[cal1, cal3, cal5].map((c, i) => ({ type: 'line', data: pts(c), borderColor: calColors[i], borderWidth: 0.9, pointRadius: 0 })),
    ...[cal1, cal3, cal5].map((c, i) => ({ data: pts(c), pointStyle: 'rect', pointRadius: 1.7, backgroundColor: calPointColors[i], borderWidth: 0 }))
  ] },
  options: baseOptions([30.7, 235.7, 156, 342.7], { min: -0.022, max: 1.034 }, { min: -0.044, max: 1.033 }),
  plugins: [calPlugin]
});
// (D)(E)(F)
const rocPanels = [
  { area: [200, 235.7, 328.3, 342.7], xr: [-0.052, 1.054], curves: [rocD1, rocD3, rocD5], auc: aucD, yLab: 192, yTitleX: 178, legX: 253.3 },
  { area: [371, 235.7, 497.7, 342.7], xr: [-0.04, 1.037], curves: [rocE1, rocE3, rocE5], auc: aucE, yLab: 361.7, yTitleX: 349, legX: 425 },
  { area: [541.7, 235.7, 667.7, 342.7], xr: [-0.043, 1.038], curves: [rocF1, rocF3, rocF5], auc: aucF, yLab: 532, yTitleX: 520, legX: 595 }
];
const rocColors = [GREEN_R, BLUE_R, RED_R];
const rocYears = [1, 3, 5];
rocPanels.forEach(p => {
  new Chart(newCanvas(), {
    type: 'scatter',
    data: { datasets: [
      { type: 'line', data: [{ x: 0, y: 0 }, { x: 1, y: 1 }], borderColor: '#777', borderWidth: 0.6, borderDash: [1.2, 1.6], pointRadius: 0 },
      ...[2, 1, 0].map(i => ({ type: 'line', data: pts(p.curves[i]), borderColor: rocColors[i], borderWidth: 1.1, pointRadius: 0, stepped: 'after' }))
    ] },
    options: baseOptions(p.area, { min: p.xr[0], max: p.xr[1] }, { min: -0.037, max: 1.043 }),
    plugins: [{ id: 'roc', afterDatasetsDraw(chart) {
      rBaseAxes(chart, { yLab: p.yLab, yTitleX: p.yTitleX, xTitle: '1−Specificity', yTitle: 'Sensitivity', legX: p.legX,
        legend: rocYears.map((yr, i) => [rocColors[i], 'AUC at ' + yr + ' years: ' + p.auc[i]]) });
    } }]
  });
});

// ---------------- (G) heatmap ----------------
function corColor(v) {
  const t = Math.max(-1, Math.min(1, v / 0.33));
  const c = t >= 0 ? [229, 50, 47] : [92, 92, 182];
  const k = Math.abs(t);
  return 'rgb(' + [0, 1, 2].map(i => Math.round(255 + (c[i] - 255) * k)).join(',') + ')';
}
const heatPlugin = {
  id: 'heat',
  afterDatasetsDraw(chart) {
    const { ctx, chartArea: a, scales: { x, y } } = chart;
    corStars.forEach((row, r) => row.forEach((s, c) => {
      if (s) txt(ctx, s, x.getPixelForValue(c + 0.5), y.getPixelForValue(r) + 0.8, { size: 5, color: '#333' });
    }));
    immuneCells.forEach((lab, r) => txt(ctx, lab, a.left - 6.5, y.getPixelForValue(r), { align: 'right', size: 5.9, weight: 'bold', color: '#444' }));
    corGenes.forEach((g, c) => txt(ctx, g, x.getPixelForValue(c + 0.5) + 4, a.bottom + 4, { align: 'right', rot: -45, size: 5.8, color: '#444' }));
    // significance legend
    [['***', 'p<0.001'], ['**', 'p<0.01'], ['*', 'p<0.05']].forEach(([s, t], i) => {
      const ly = 467 + i * 7.8;
      txt(ctx, s, 294, ly + 1.5, { align: 'right', size: 7.5 });
      txt(ctx, t, 296, ly, { align: 'left', size: 7.5 });
    });
    txt(ctx, 'Correlation', 288, 499, { align: 'left', size: 7.5 });
    // colour bar: top 506 -> 0.4, 14.5 px per 0.2
    for (let py = 506; py < 563; py += 0.5) {
      ctx.fillStyle = corColor(0.4 - (py - 506) * 0.2 / 14.5);
      ctx.fillRect(288, py, 11, 0.6);
    }
    corLegendTicks.forEach(v => {
      const py = 506 + (0.4 - v) * 14.5 / 0.2;
      seg(ctx, 288, py, 290, py, '#fff', 0.5); seg(ctx, 297, py, 299, py, '#fff', 0.5);
      txt(ctx, v === 0 ? '0.0' : (v < 0 ? '−' : '') + Math.abs(v).toFixed(1), 303, py, { align: 'left', size: 6.5, color: '#333' });
    });
  }
};
new Chart(newCanvas(), {
  type: 'bar',
  data: { labels: immuneCells, datasets: corGenes.map((g, c) => ({
    data: corValues.map(() => [c, c + 1]), backgroundColor: corValues.map(r => corColor(r[c])),
    borderColor: '#c6c6c6', borderWidth: 0.7, borderSkipped: false, barPercentage: 1, categoryPercentage: 1, grouped: false })) },
  options: Object.assign(baseOptions([93.3, 401, 273.3, 626.7], { min: 0, max: 5 }, { type: 'category', display: false }), { indexAxis: 'y' }),
  plugins: [heatPlugin]
});

// ---------------- (H) violins ----------------
function violinPts(prof, cx, hw) {
  const right = prof.map(([v, w]) => ({ x: cx + w * hw, y: v }));
  const left = prof.slice().reverse().map(([v, w]) => ({ x: cx - w * hw, y: v }));
  return right.concat(left);
}
const violinOff = 0.2;
const violinPlugin = {
  id: 'violin',
  afterDatasetsDraw(chart) {
    const { ctx, chartArea: a, scales: { x, y } } = chart;
    [[tmeBoxLow, -violinOff], [tmeBoxHigh, violinOff]].forEach(([bx, off]) => bx.forEach((s, g) => {
      const px = x.getPixelForValue(g + 1 + off);
      const q1 = y.getPixelForValue(s[1]), q3 = y.getPixelForValue(s[3]), md = y.getPixelForValue(s[2]);
      seg(ctx, px, y.getPixelForValue(s[0]), px, q1, '#f2f2f2', 0.5);
      seg(ctx, px, q3, px, y.getPixelForValue(s[4]), '#f2f2f2', 0.5);
      ctx.save(); ctx.strokeStyle = '#f2f2f2'; ctx.lineWidth = 0.6; ctx.strokeRect(px - 2.4, q3, 4.8, q1 - q3); ctx.restore();
      seg(ctx, px - 2.4, md, px + 2.4, md, '#ffffff', 0.9);
    }));
    seg(ctx, a.left, a.top, a.left, a.bottom, '#222', 0.6);
    seg(ctx, a.left, a.bottom, a.right, a.bottom, '#222', 0.6);
    tmeTicks.forEach(v => {
      const py = y.getPixelForValue(v);
      seg(ctx, a.left - 1.8, py, a.left, py, '#222', 0.5);
      txt(ctx, (v < 0 ? '−' : '') + Math.abs(v), a.left - 2.8, py, { align: 'right', size: 4.3, color: '#4d4d4d' });
    });
    tmeGroups.forEach((g, i) => {
      const px = x.getPixelForValue(i + 1);
      seg(ctx, px, a.bottom, px, a.bottom + 1.8, '#222', 0.5);
      txt(ctx, g, px + 2, a.bottom + 4, { align: 'right', rot: -45, size: 4.6, color: '#4d4d4d' });
      if (tmeSig[i]) txt(ctx, tmeSig[i], px, y.getPixelForValue(5900), { size: 4.3, color: '#444' });
    });
    txt(ctx, 'TME score', 352.5, (a.top + a.bottom) / 2, { rot: -90, size: 4.6 });
    txt(ctx, 'Risk', 416, 393, { size: 3.8 });
    keyBox(ctx, 426.7, 391, 5, 4, BLUE);
    txt(ctx, 'low', 433.5, 393, { align: 'left', size: 3.8 });
    keyBox(ctx, 441, 391, 5, 4, RED);
    txt(ctx, 'high', 448, 393, { align: 'left', size: 3.8 });
  }
};
new Chart(newCanvas(), {
  type: 'scatter',
  data: { datasets: [
    ...violinLow.map((prof, g) => ({ type: 'line', data: violinPts(prof, g + 1 - violinOff, violinWidth[g]), fill: 'shape',
      backgroundColor: BLUE, borderColor: '#333', borderWidth: 0.5, pointRadius: 0, tension: 0.3 })),
    ...violinHigh.map((prof, g) => ({ type: 'line', data: violinPts(prof, g + 1 + violinOff, violinWidth[g]), fill: 'shape',
      backgroundColor: RED, borderColor: '#333', borderWidth: 0.5, pointRadius: 0, tension: 0.3 })),
    { data: tmeOutLow.flatMap((vs, g) => vs.map(v => ({ x: g + 1 - violinOff, y: v }))), pointRadius: 0.6, backgroundColor: '#555', borderWidth: 0 },
    { data: tmeOutHigh.flatMap((vs, g) => vs.map(v => ({ x: g + 1 + violinOff, y: v }))), pointRadius: 0.6, backgroundColor: '#555', borderWidth: 0 }
  ] },
  options: baseOptions([371.7, 403.3, 498.3, 490], { min: 0.385, max: 3.59 }, { min: -3240, max: 6960 }),
  plugins: [violinPlugin]
});

// ---------------- bw theme helper for (I) and (K) ----------------
function bwPanel(chart, xt, yt) {
  const { ctx, chartArea: a, scales: { x, y } } = chart;
  const minor = t => t.slice(1).map((v, i) => (v + t[i]) / 2);
  minor(xt).forEach(v => { const p = x.getPixelForValue(v); seg(ctx, p, a.top, p, a.bottom, '#f2f2f2', 0.4); });
  minor(yt).forEach(v => { const p = y.getPixelForValue(v); seg(ctx, a.left, p, a.right, p, '#f2f2f2', 0.4); });
  xt.forEach(v => { const p = x.getPixelForValue(v); seg(ctx, p, a.top, p, a.bottom, '#e6e6e6', 0.6); });
  yt.forEach(v => { const p = y.getPixelForValue(v); seg(ctx, a.left, p, a.right, p, '#e6e6e6', 0.6); });
}
function bwFrame(chart, xt, yt, yFmt) {
  const { ctx, chartArea: a, scales: { x, y } } = chart;
  ctx.save(); ctx.strokeStyle = '#a8a8a8'; ctx.lineWidth = 0.6; ctx.strokeRect(a.left, a.top, a.right - a.left, a.bottom - a.top); ctx.restore();
  xt.forEach(v => { const p = x.getPixelForValue(v); seg(ctx, p, a.bottom, p, a.bottom + 1.5, '#555', 0.4);
    txt(ctx, String(v), p, a.bottom + 3.8, { size: 4.2, color: '#4d4d4d' }); });
  yt.forEach(v => { const p = y.getPixelForValue(v); seg(ctx, a.left - 1.5, p, a.left, p, '#555', 0.4);
    txt(ctx, yFmt(v), a.left - 2.3, p, { align: 'right', size: 4.2, color: '#4d4d4d' }); });
}

// ---------------- (I) ----------------
const areaI = [542.7, 407.7, 646, 501.7];
const scXI = { min: -0.27, max: 8.22 }, scYI = { min: -0.035, max: 0.711 };
new Chart(newCanvas(), {
  type: 'scatter',
  data: { datasets: [
    { type: 'line', data: fitXI.map((v, i) => ({ x: v, y: fitLoI[i] })), borderWidth: 0, pointRadius: 0 },
    { type: 'line', data: fitXI.map((v, i) => ({ x: v, y: fitHiI[i] })), borderWidth: 0, pointRadius: 0, fill: '-1', backgroundColor: 'rgba(160,160,160,0.55)' },
    { data: pts(rnassPoints), pointRadius: 0.9, backgroundColor: '#000', borderWidth: 0 },
    { type: 'line', data: fitXI.map((v, i) => ({ x: v, y: fitI[i] })), borderColor: '#3366ff', borderWidth: 1.1, pointRadius: 0 }
  ] },
  options: baseOptions(areaI, scXI, scYI),
  plugins: [{ id: 'bwI',
    beforeDatasetsDraw(chart) { bwPanel(chart, riskTicks, rnassTicks); },
    afterDatasetsDraw(chart) {
      bwFrame(chart, riskTicks, rnassTicks, v => v.toFixed(1));
      const ctx = chart.ctx;
      txt(ctx, 'R = 0.26, p = 4.8e−11', 548, 413, { align: 'left', size: 4.2, color: '#333' });
      txt(ctx, 'Risk score', 594, 508, { size: 4.5, color: '#333' });
      txt(ctx, 'RNAss', 531, (areaI[1] + areaI[3]) / 2, { rot: -90, size: 4.5, color: '#333' });
    } }]
});
// top marginal density
new Chart(newCanvas(), {
  type: 'scatter',
  data: { datasets: [{ type: 'line', data: pts(riskDensity), fill: 'origin', backgroundColor: '#f7a400', borderColor: '#b07400',
    borderWidth: 0.5, pointRadius: 0, tension: 0.35 }] },
  options: baseOptions([542.7, 384.5, 646, 403.3], scXI, { min: 0, max: 1.02 })
});
// right marginal density
new Chart(newCanvas(), {
  type: 'scatter',
  data: { datasets: [{ type: 'line',
    data: rnassDensity.map(([v, w]) => ({ x: w, y: v })).concat([{ x: 0, y: 0.7 }, { x: 0, y: 0.08 }]),
    fill: 'shape', backgroundColor: '#0000ff', borderColor: '#000080', borderWidth: 0.4, pointRadius: 0, tension: 0.3 }] },
  options: baseOptions([646, areaI[1], 669, areaI[3]], { min: 0, max: 1.13 }, scYI)
});

// ---------------- (J) ----------------
const tmbPlugin = {
  id: 'tmb',
  beforeDatasetsDraw(chart) {
    const { ctx, scales: { x, y } } = chart;
    tmbBox.forEach((s, i) => {
      const px = x.getPixelForValue(i + 1);
      seg(ctx, px, y.getPixelForValue(s[0]), px, y.getPixelForValue(s[4]), '#333', 0.6);
    });
  },
  afterDatasetsDraw(chart) {
    const { ctx, chartArea: a, scales: { x, y } } = chart;
    tmbBox.forEach((s, i) => {
      const px = x.getPixelForValue(i + 1), py = y.getPixelForValue(s[2]);
      seg(ctx, px - 20, py, px + 20, py, '#000', 1.2);
    });
    seg(ctx, a.left, a.top, a.left, a.bottom, '#222', 0.6);
    seg(ctx, a.left, a.bottom, a.right, a.bottom, '#222', 0.6);
    tmbTicks.forEach(v => {
      const py = y.getPixelForValue(v);
      seg(ctx, a.left - 1.8, py, a.left, py, '#222', 0.5);
      txt(ctx, String(v), a.left - 2.8, py, { align: 'right', size: 4.8, color: '#4d4d4d' });
    });
    tmbGroups.forEach((g, i) => {
      const px = x.getPixelForValue(i + 1);
      seg(ctx, px, a.bottom, px, a.bottom + 1.8, '#222', 0.5);
      txt(ctx, g, px, a.bottom + 4.5, { size: 4.8, color: '#4d4d4d' });
    });
    const bx0 = x.getPixelForValue(1), bx1 = x.getPixelForValue(2), by = y.getPixelForValue(6.9);
    seg(ctx, bx0, by, bx1, by, '#555', 0.5);
    seg(ctx, bx0, by, bx0, by + 2.5, '#555', 0.5);
    seg(ctx, bx1, by, bx1, by + 2.5, '#555', 0.5);
    txt(ctx, tmbP, (bx0 + bx1) / 2, by - 2.7, { size: 4.5, color: '#333' });
    txt(ctx, 'Tumor Burden Mutation', 362.5, (a.top + a.bottom) / 2, { rot: -90, size: 4.5 });
    txt(ctx, 'Risk', 416, 531.7, { size: 4.3 });
    keyBox(ctx, 424.3, 529.5, 6.4, 4.8, BLUE);
    txt(ctx, 'low', 432.5, 531.7, { align: 'left', size: 4 });
    keyBox(ctx, 441.7, 529.5, 6.4, 4.8, RED);
    txt(ctx, 'high', 450.3, 531.7, { align: 'left', size: 4 });
  }
};
new Chart(newCanvas(), {
  type: 'bar',
  data: { datasets: [
    { data: tmbBox.map((s, i) => ({ x: i + 1, y: [s[1], s[3]] })), backgroundColor: [BLUE, RED], borderColor: '#333',
      borderWidth: 0.7, borderSkipped: false, barThickness: 40, grouped: false },
    { type: 'scatter', data: tmbOut.flatMap((vs, i) => vs.map(v => ({ x: i + 1, y: v }))), pointRadius: 1.3, backgroundColor: '#111', borderWidth: 0 }
  ] },
  options: baseOptions([371.7, 543, 493, 650], { min: 0.4, max: 2.52 }, { min: -0.36, max: 7.4 }),
  plugins: [tmbPlugin]
});

// ---------------- (K) ----------------
const areaK = [542.7, 528.3, 666.7, 648.3];
new Chart(newCanvas(), {
  type: 'scatter',
  data: { datasets: [
    { type: 'line', data: fitXK.map((v, i) => ({ x: v, y: fitLoK[i] })), borderWidth: 0, pointRadius: 0 },
    { type: 'line', data: fitXK.map((v, i) => ({ x: v, y: fitHiK[i] })), borderWidth: 0, pointRadius: 0, fill: '-1', backgroundColor: 'rgba(160,160,160,0.55)' },
    { data: pts(tmbClusterB), pointStyle: 'rect', pointRadius: 1.6, backgroundColor: '#ffa000', borderWidth: 0 },
    { data: pts(tmbClusterA), pointStyle: 'rect', pointRadius: 1.6, backgroundColor: '#2b63e6', borderWidth: 0 },
    { type: 'line', data: fitXK.map((v, i) => ({ x: v, y: fitK[i] })), borderColor: '#3366ff', borderWidth: 1.1, pointRadius: 0 }
  ] },
  options: baseOptions(areaK, { min: -0.23, max: 8.6 }, { min: -0.42, max: 6.97 }),
  plugins: [{ id: 'bwK',
    beforeDatasetsDraw(chart) { bwPanel(chart, riskTicks, tmbKTicks); },
    afterDatasetsDraw(chart) {
      bwFrame(chart, riskTicks, tmbKTicks, v => String(v));
      const ctx = chart.ctx;
      txt(ctx, 'R = 0.21, p = 4e−06', 548, 534, { align: 'left', size: 4.2, color: '#333' });
      txt(ctx, 'geneCluster', 632, 533.5, { align: 'left', size: 4.2, color: '#333' });
      ctx.fillStyle = '#2b63e6'; ctx.fillRect(634.3, 540.5, 2.4, 2.4);
      ctx.fillStyle = '#ffa000'; ctx.fillRect(634.3, 548.1, 2.4, 2.4);
      txt(ctx, 'A', 640, 541.7, { align: 'left', size: 4, color: '#333' });
      txt(ctx, 'B', 640, 549.3, { align: 'left', size: 4, color: '#333' });
      txt(ctx, 'Risk score', 604, 655, { size: 4.5, color: '#333' });
      txt(ctx, 'Tumor Burden Mutation', 525, (areaK[1] + areaK[3]) / 2, { rot: -90, size: 4.5, color: '#333' });
    } }]
});
</script>
</body>
</html>
